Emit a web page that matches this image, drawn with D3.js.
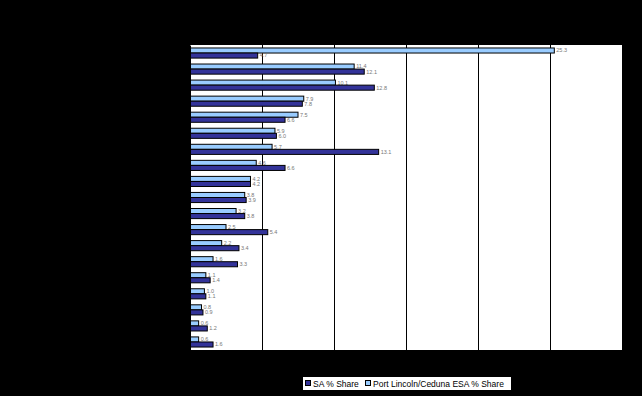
<!DOCTYPE html>
<html>
<head>
<meta charset="utf-8">
<script src="https://cdn.jsdelivr.net/npm/d3@7"></script>
<style>
  body { margin: 0; background: #000; }
  svg { display: block; font-family: "Liberation Sans", Arial, sans-serif; }
</style>
</head>
<body>
<div id="chart"></div>
<script>
var width = 642;
var height = 396;

// industries (labels are drawn in black on the black background, as in the original)
var categories = [
  "Agriculture, Forestry and Fishing",
  "Retail Trade",
  "Health and Community Services",
  "Education",
  "Construction",
  "Accommodation, Cafes and Restaurants",
  "Manufacturing",
  "Property and Business Services",
  "Wholesale Trade",
  "Transport and Storage",
  "Personal and Other Services",
  "Government Administration and Defence",
  "Cultural and Recreational Services",
  "Finance and Insurance",
  "Communication Services",
  "Mining",
  "Electricity, Gas and Water Supply",
  "Non-classifiable",
  "Not stated"
];
var eyreShare = [25.3, 11.4, 10.1, 7.9, 7.5, 5.9, 5.7, 4.6, 4.2, 3.8, 3.2, 2.5, 2.2, 1.6, 1.1, 1.0, 0.8, 0.6, 0.6];
var saShare = [4.7, 12.1, 12.8, 7.8, 6.6, 6.0, 13.1, 6.6, 4.2, 3.9, 3.8, 5.4, 3.4, 3.3, 1.4, 1.1, 0.9, 1.2, 1.6];
var xTicks = [0, 5, 10, 15, 20, 25, 30];
var seriesNames = ["SA % Share", "Port Lincoln/Ceduna ESA % Share"];

var light = "#99ccff";
var dark = "#333399";

var svg = d3.select("#chart").append("svg")
  .attr("width", width)
  .attr("height", height);

svg.append("rect").attr("width", width).attr("height", height).attr("fill", "#000");

var plotLeft = 190, plotRight = 622, plotTop = 45, plotBottom = 350;

var x = d3.scaleLinear().domain([0, 30]).range([plotLeft, plotRight]);
var y = d3.scaleBand().domain(categories).range([plotTop, plotBottom]).paddingInner(0.37).paddingOuter(0.185);
var sub = d3.scaleBand().domain(["eyre", "sa"]).range([0, y.bandwidth()]);

// plot area
svg.append("rect")
  .attr("x", plotLeft).attr("y", plotTop)
  .attr("width", plotRight - plotLeft).attr("height", plotBottom - plotTop)
  .attr("fill", "#fff");

// gridlines
svg.append("g")
  .selectAll("line")
  .data(xTicks.slice(1, -1))
  .enter()
  .append("line")
  .attr("x1", d => x(d) + 0.5).attr("x2", d => x(d) + 0.5)
  .attr("y1", plotTop).attr("y2", plotBottom)
  .attr("stroke", "#000")
  .attr("stroke-width", 1);

var rows = categories.map((c, i) => ({ cat: c, eyre: eyreShare[i], sa: saShare[i] }));

var g = svg.append("g");

["eyre", "sa"].forEach(function (key) {
  g.selectAll("rect." + key)
    .data(rows)
    .enter()
    .append("rect")
    .attr("class", key)
    .attr("x", x(0))
    .attr("y", d => y(d.cat) + sub(key))
    .attr("width", d => x(d[key]) - x(0))
    .attr("height", sub.bandwidth())
    .attr("fill", key == "eyre" ? light : dark)
    .attr("stroke", "#000")
    .attr("stroke-width", 1);

  g.selectAll("text." + key)
    .data(rows)
    .enter()
    .append("text")
    .attr("class", key)
    .attr("x", d => x(d[key]) + 2)
    .attr("y", d => y(d.cat) + sub(key) + sub.bandwidth() / 2)
    .attr("dy", "0.35em")
    .attr("font-size", "5.5px")
    .attr("fill", "#777")
    .text(d => d[key].toFixed(1));
});

// axes (black on black)
var yAxis = svg.append("g")
  .attr("transform", "translate(" + plotLeft + ",0)")
  .call(d3.axisLeft(y).tickSize(0).tickPadding(5));
yAxis.selectAll("text").attr("fill", "#000").attr("font-size", "7px");
yAxis.select(".domain").attr("stroke", "#000");

var xAxis = svg.append("g")
  .attr("transform", "translate(0," + plotBottom + ")")
  .call(d3.axisBottom(x).tickValues(xTicks).tickSize(3));
xAxis.selectAll("text").attr("fill", "#000").attr("font-size", "7px");
xAxis.selectAll("line, .domain").attr("stroke", "#000");

// legend
var legend = svg.append("g").attr("transform", "translate(303,377)");
legend.append("rect")
  .attr("width", 208).attr("height", 13)
  .attr("fill", "#fff");
var legendItems = [
  { name: seriesNames[0], color: dark, x: 2 },
  { name: seriesNames[1], color: light, x: 62 }
];
legendItems.forEach(function (item) {
  legend.append("rect")
    .attr("x", item.x + 0.5).attr("y", 3.5)
    .attr("width", 5).attr("height", 5)
    .attr("fill", item.color)
    .attr("stroke", "#000");
  legend.append("text")
    .attr("x", item.x + 8).attr("y", 10)
    .attr("font-size", "8.5px")
    .attr("fill", "#000")
    .text(item.name);
});
</script>
</body>
</html>
